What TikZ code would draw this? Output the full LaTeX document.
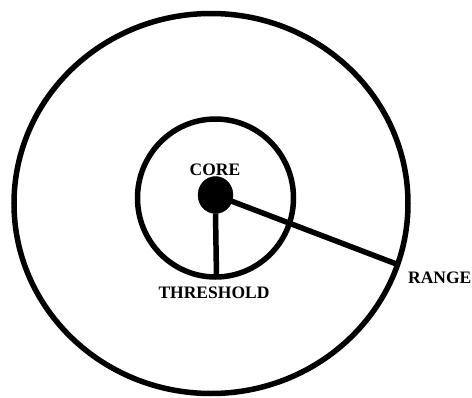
\documentclass[tikz,border=0pt]{standalone}
\usepackage{fontspec}
\setmainfont{Liberation Serif}
\usetikzlibrary{shapes.geometric}
\begin{document}
\begin{tikzpicture}[x=1pt,y=-1pt,
  ring/.style={draw=black,line width=5.5pt},
  bar/.style={draw=black,line width=5.5pt},
  lbl/.style={font=\fontsize{17.5}{17.5}\selectfont\bfseries,inner sep=0pt}]
\useasboundingbox (0,0) rectangle (472,397);
\draw[ring] (211,203.5) ellipse [x radius=197, y radius=190];
\draw[ring] (215.5,198) ellipse [x radius=78, y radius=79];
\node[draw=black,fill=black,ellipse,minimum width=35pt,minimum height=37pt,inner sep=0pt] (core) at (215.5,195) {};
\coordinate (thr) at (216.5,277);
\coordinate (rng) at (399,265);
\draw[bar] (core.south) -- (thr);
\draw[bar] (core.center) -- (rng);
\node[lbl] (corelbl) at (215,170) {CORE};
\node[lbl] (thrlbl) at (214,293) {THRESHOLD};
\node[lbl,anchor=west] (rnglbl) at (408,277.5) {RANGE};
\end{tikzpicture}
\end{document}
